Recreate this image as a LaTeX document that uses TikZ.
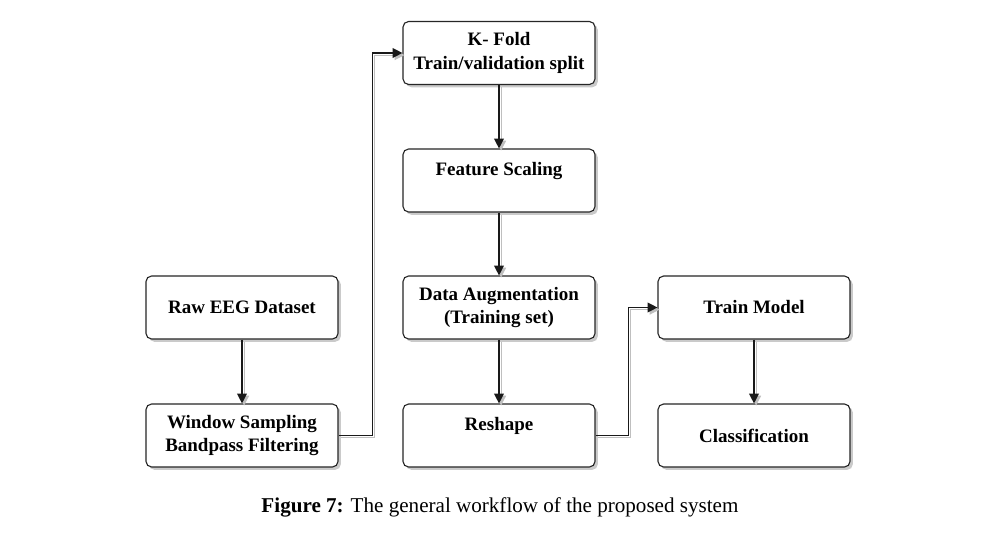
\documentclass[tikz,border=0pt]{standalone}
\usepackage{fontspec}
\setmainfont{Liberation Serif}
\usetikzlibrary{positioning,shadows,arrows.meta}

\begin{document}
\begin{tikzpicture}[x=0.025cm,y=-0.025cm,
  box/.style={draw=black!85, thick, rounded corners=4pt, fill=white,
    minimum width=4.8cm, minimum height=1.575cm, align=center,
    font=\bfseries\fontsize{13.5}{17}\selectfont,
    drop shadow={shadow xshift=2pt, shadow yshift=-2pt, fill=black!35, opacity=0.6}},
  flow/.style={-{Triangle[length=7pt,width=7pt]}, thick, black!90,
    preaction={draw=black!25, thick, transform canvas={xshift=1.5pt,yshift=-1.5pt}}}]
\useasboundingbox (0,0) rectangle (984,544);
\node[box] (kfold) at (499,53) {K- Fold\\Train/validation split};
\node[box] (scaling) at (499,180.5) {Feature Scaling\\~};
\node[box] (augment) at (499,307.5) {Data Augmentation\\(Training set)};
\node[box] (reshape) at (499,435.5) {Reshape\\~};
\node[box] (raw) at (242,307.5) {Raw EEG Dataset};
\node[box] (window) at (242,435.5) {Window Sampling\\Bandpass Filtering};
\node[box] (train) at (754,307.5) {Train Model};
\node[box] (classify) at (754,435.5) {Classification};
\draw[flow] (raw) -- (window);
\draw[flow] (window.east) -- ++(34,0) |- (kfold.west);
\draw[flow] (kfold) -- (scaling);
\draw[flow] (scaling) -- (augment);
\draw[flow] (augment) -- (reshape);
\draw[flow] (reshape.east) -- ++(33,0) |- (train.west);
\draw[flow] (train) -- (classify);
\node[font=\fontsize{15}{18}\selectfont] (caption) at (500,507)
    {\textbf{Figure 7:} The general workflow of the proposed system};
\end{tikzpicture}
\end{document}
